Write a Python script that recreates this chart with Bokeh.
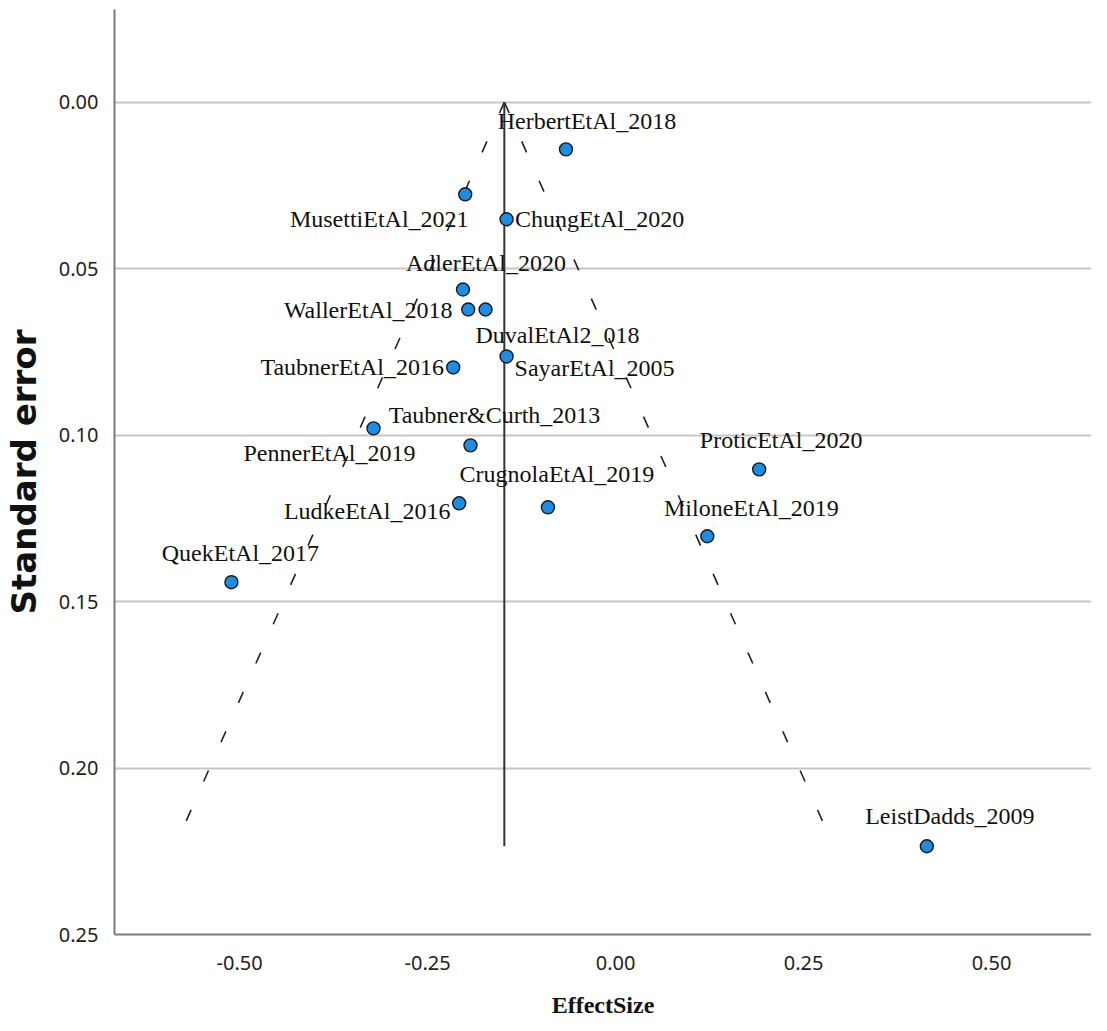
from bokeh.plotting import figure
from bokeh.models import Range1d, FixedTicker, NumeralTickFormatter, ColumnDataSource
from bokeh.core.properties import value
from bokeh.embed import file_html
from bokeh.resources import INLINE

# ---- data ----
studies = ["HerbertEtAl_2018", "MusettiEtAl_2021", "ChungEtAl_2020", "AdlerEtAl_2020",
           "WallerEtAl_2018", "DuvalEtAl2_018", "SayarEtAl_2005", "TaubnerEtAl_2016",
           "Taubner&Curth_2013", "PennerEtAl_2019", "ProticEtAl_2020", "CrugnolaEtAl_2019",
           "LudkeEtAl_2016", "MiloneEtAl_2019", "QuekEtAl_2017", "LeistDadds_2009"]
effect_size = [-0.066, -0.200, -0.145, -0.203, -0.196, -0.173, -0.145, -0.216,
               -0.322, -0.193, 0.191, -0.090, -0.208, 0.122, -0.511, 0.414]
std_error = [0.0142, 0.0277, 0.0352, 0.0563, 0.0623, 0.0623, 0.0764, 0.0797,
             0.0980, 0.1031, 0.1103, 0.1217, 0.1205, 0.1304, 0.1442, 0.2235]
pooled_effect = -0.148
x_ticks = [-0.50, -0.25, 0.00, 0.25, 0.50]
y_ticks = [0.00, 0.05, 0.10, 0.15, 0.20, 0.25]
grid_ticks = [0.00, 0.05, 0.10, 0.15, 0.20]

# label placement (pixel offsets of label centre from its point)
label_dx = [21, -86, 93, 23, -100, 72, 88, -101, 121, -141, 22, 9, -92, 44, 9, 23]
label_dy = [-28, 25, 0, -27, 0, 25, 12, 0, -13, 8, -29, -33, 8, -28, -29, -30]

W, H = 1091, 1022
p = figure(width=W, height=H, output_backend="svg", toolbar_location=None,
           x_range=Range1d(-0.6665, 0.633), y_range=Range1d(0.25, -0.0278),
           min_border_left=107, min_border_right=0, min_border_top=9, min_border_bottom=88)
p.outline_line_color = None
p.background_fill_color = "white"

p.xgrid.visible = False
p.ygrid.ticker = FixedTicker(ticks=grid_ticks)
p.ygrid.grid_line_color = "#c6c6c6"
p.ygrid.grid_line_width = 2

for ax, ticks in ((p.xaxis[0], x_ticks), (p.yaxis[0], y_ticks)):
    ax.ticker = FixedTicker(ticks=ticks)
    ax.formatter = NumeralTickFormatter(format="0.00")
    ax.major_tick_line_color = None
    ax.minor_tick_line_color = None
    ax.axis_line_color = "#7a7a7a"
    ax.axis_line_width = 2
    ax.major_label_text_font = "Noto Sans"
    ax.major_label_text_font_size = "20px"
    ax.major_label_text_color = "#222222"

p.yaxis.major_label_standoff = 10
p.xaxis.major_label_standoff = 15
p.yaxis.axis_label = "Standard error"
p.yaxis.axis_label_text_font = "DejaVu Sans"
p.yaxis.axis_label_text_font_style = "bold"
p.yaxis.axis_label_text_font_size = "34px"
p.yaxis.axis_label_text_color = "#111111"
p.yaxis.axis_label_standoff = 12
p.xaxis.axis_label = "EffectSize"
p.xaxis.axis_label_text_font = "Liberation Serif"
p.xaxis.axis_label_text_font_style = "bold"
p.xaxis.axis_label_text_font_size = "24px"
p.xaxis.axis_label_text_color = "#111111"
p.xaxis.axis_label_standoff = 19

# funnel (95% limits) and pooled effect line
se_max = max(std_error)
p.line([pooled_effect, pooled_effect - 1.96 * se_max], [0, se_max],
       line_color="#222222", line_width=1.6, line_dash="12 31")
p.line([pooled_effect, pooled_effect + 1.96 * se_max], [0, se_max],
       line_color="#222222", line_width=1.6, line_dash="12 31")
p.line([pooled_effect, pooled_effect], [0, se_max], line_color="#333333", line_width=2)

src = ColumnDataSource(dict(x=effect_size, y=std_error, name=studies,
                            dx=label_dx, dy=label_dy))
p.text(x="x", y="y", text="name", x_offset="dx", y_offset="dy", source=src,
       text_font=value("Liberation Serif"), text_font_size="24px",
       text_align="center", text_baseline="middle", text_color="#111111")
p.scatter(x="x", y="y", source=src, size=13, fill_color="#1f8ce0",
          line_color="#1a1a1a", line_width=1.4)

open("out.html", "w").write(file_html(p, INLINE))
